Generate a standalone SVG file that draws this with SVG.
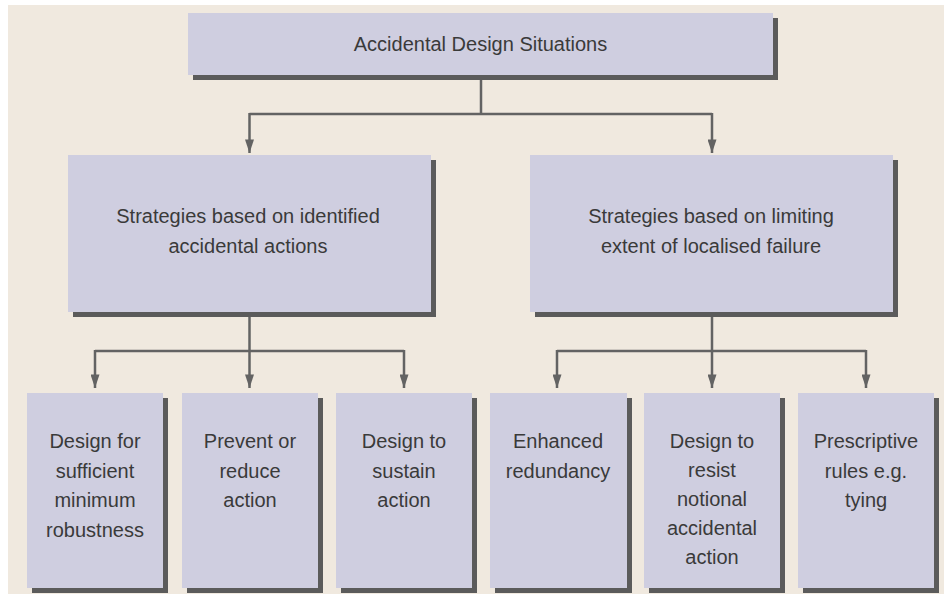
<svg xmlns="http://www.w3.org/2000/svg" width="950" height="598" viewBox="0 0 950 598">
<defs>
<style>
.box{fill:#cfcee0;}
.sh{fill:#5b5b5b;}
.t{font-family:"Liberation Sans",Arial,sans-serif;font-size:20px;fill:#3a3a3a;text-anchor:middle;}
.c{fill:none;stroke:#636363;stroke-width:2.5;}
</style>
<marker id="ah" viewBox="0 0 15 10" refX="15" refY="5" markerWidth="15" markerHeight="9" markerUnits="userSpaceOnUse" orient="auto">
<path d="M0,0 L15,5 L0,10 z" fill="#636363"/>
</marker>
</defs>
<rect x="0" y="0" width="950" height="598" fill="#ffffff"/>
<rect x="8" y="5" width="936" height="589" fill="#f0e9df"/>

<g id="connectors">
<path class="c" d="M481,80 V114"/>
<path class="c" d="M249.5,114 H712"/>
<path class="c" d="M249.5,113 V153" marker-end="url(#ah)"/>
<path class="c" d="M712,113 V153" marker-end="url(#ah)"/>
<path class="c" d="M249.5,317 V351"/>
<path class="c" d="M95,351 H404"/>
<path class="c" d="M95,350 V388" marker-end="url(#ah)"/>
<path class="c" d="M249.5,350 V388" marker-end="url(#ah)"/>
<path class="c" d="M404,350 V388" marker-end="url(#ah)"/>
<path class="c" d="M712,317 V351"/>
<path class="c" d="M557,351 H866"/>
<path class="c" d="M557,350 V388" marker-end="url(#ah)"/>
<path class="c" d="M712,350 V388" marker-end="url(#ah)"/>
<path class="c" d="M866,350 V388" marker-end="url(#ah)"/>
</g>

<g id="top">
<rect class="sh" x="193" y="18" width="585" height="62"/>
<rect class="box" x="188" y="13" width="585" height="62"/>
<text class="t" x="480.5" y="51">Accidental Design Situations</text>
</g>

<g id="strategy-identified">
<rect class="sh" x="73" y="160" width="363" height="157"/>
<rect class="box" x="68" y="155" width="363" height="157"/>
<text class="t" x="248" y="223">Strategies based on identified</text>
<text class="t" x="248" y="253">accidental actions</text>
</g>

<g id="strategy-limiting">
<rect class="sh" x="535" y="160" width="363" height="157"/>
<rect class="box" x="530" y="155" width="363" height="157"/>
<text class="t" x="711" y="223">Strategies based on limiting</text>
<text class="t" x="711" y="253">extent of localised failure</text>
</g>

<g id="robustness">
<rect class="sh" x="32" y="398" width="136" height="195"/>
<rect class="box" x="27" y="393" width="136" height="195"/>
<text class="t" x="95" y="448">Design for</text>
<text class="t" x="95" y="477.5">sufficient</text>
<text class="t" x="95" y="507">minimum</text>
<text class="t" x="95" y="536.5">robustness</text>
</g>

<g id="prevent">
<rect class="sh" x="187" y="398" width="136" height="195"/>
<rect class="box" x="182" y="393" width="136" height="195"/>
<text class="t" x="250" y="448">Prevent or</text>
<text class="t" x="250" y="477.5">reduce</text>
<text class="t" x="250" y="507">action</text>
</g>

<g id="sustain">
<rect class="sh" x="341" y="398" width="136" height="195"/>
<rect class="box" x="336" y="393" width="136" height="195"/>
<text class="t" x="404" y="448">Design to</text>
<text class="t" x="404" y="477.5">sustain</text>
<text class="t" x="404" y="507">action</text>
</g>

<g id="redundancy">
<rect class="sh" x="495" y="398" width="137" height="195"/>
<rect class="box" x="490" y="393" width="137" height="195"/>
<text class="t" x="558" y="448">Enhanced</text>
<text class="t" x="558" y="477.5">redundancy</text>
</g>

<g id="notional">
<rect class="sh" x="649" y="398" width="136" height="195"/>
<rect class="box" x="644" y="393" width="136" height="195"/>
<text class="t" x="712" y="448">Design to</text>
<text class="t" x="712" y="477">resist</text>
<text class="t" x="712" y="506">notional</text>
<text class="t" x="712" y="535">accidental</text>
<text class="t" x="712" y="564">action</text>
</g>

<g id="prescriptive">
<rect class="sh" x="803" y="398" width="136" height="195"/>
<rect class="box" x="798" y="393" width="136" height="195"/>
<text class="t" x="866" y="448">Prescriptive</text>
<text class="t" x="866" y="477.5">rules e.g.</text>
<text class="t" x="866" y="507">tying</text>
</g>
</svg>
